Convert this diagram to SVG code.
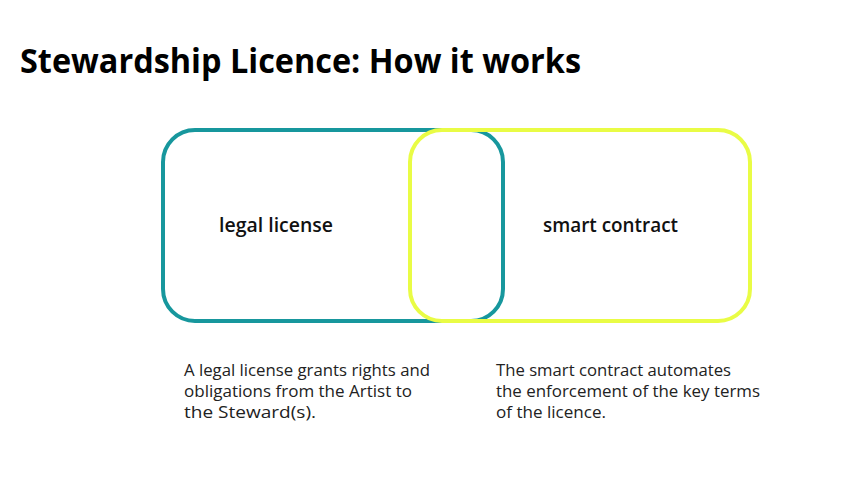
<svg xmlns="http://www.w3.org/2000/svg" width="843" height="491" viewBox="0 0 843 491">
<style>
.t{font-family:"Open Sans","Noto Sans","DejaVu Sans",sans-serif;fill:#1a1a1a}
.title{font-size:34px;font-weight:bold;fill:#000}
.lbl{font-size:19px;font-weight:600;fill:#111}
.body{font-size:16px;fill:#222}
.box{fill:none;stroke-width:4}
</style>
<rect width="843" height="491" fill="#fff"/>
<text class="t title" x="20" y="73" textLength="561" lengthAdjust="spacingAndGlyphs">Stewardship Licence: How it works</text>
<g id="legal">
<rect class="box" x="163" y="130" width="340" height="191" rx="32" stroke="#17979d"/>
<text class="t lbl" x="219" y="232" textLength="114" lengthAdjust="spacingAndGlyphs">legal license</text>
</g>
<g id="smart">
<rect class="box" x="410" y="130" width="340" height="191" rx="32" stroke="#e9fc45"/>
<text class="t lbl" x="543" y="232" textLength="135" lengthAdjust="spacingAndGlyphs">smart contract</text>
</g>
<g id="legal-desc">
<text class="t body" x="184" y="376" textLength="246" lengthAdjust="spacingAndGlyphs">A legal license grants rights and</text>
<text class="t body" x="184" y="397" textLength="228" lengthAdjust="spacingAndGlyphs">obligations from the Artist to</text>
<text class="t body" x="184" y="418" textLength="132" lengthAdjust="spacingAndGlyphs">the Steward(s).</text>
</g>
<g id="smart-desc">
<text class="t body" x="496" y="376" textLength="235" lengthAdjust="spacingAndGlyphs">The smart contract automates</text>
<text class="t body" x="496" y="397" textLength="264" lengthAdjust="spacingAndGlyphs">the enforcement of the key terms</text>
<text class="t body" x="496" y="418" textLength="110" lengthAdjust="spacingAndGlyphs">of the licence.</text>
</g>
<g id="connectors"/>
</svg>
